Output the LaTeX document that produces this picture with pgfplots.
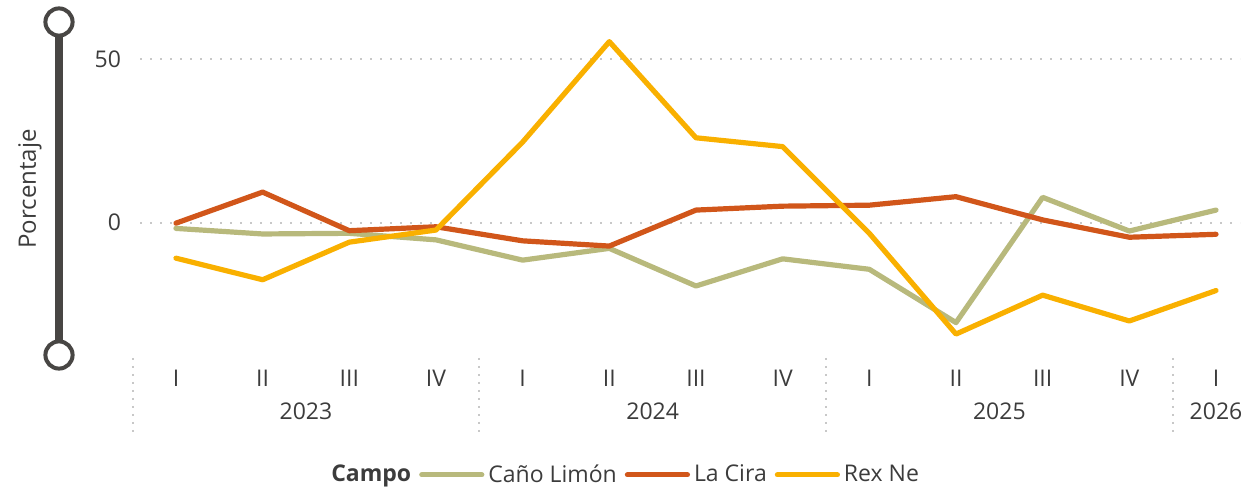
\documentclass[border=0pt]{standalone}
\usepackage{fontspec}
\setmainfont{Open Sans}
\usepackage{pgfplots}
\pgfplotsset{compat=1.18}
\definecolor{cano}{HTML}{B8B97C}
\definecolor{cira}{HTML}{D1561A}
\definecolor{rex}{HTML}{F9B000}
\definecolor{txt}{HTML}{3C3C3C}
\definecolor{slider}{HTML}{484644}
\definecolor{gridc}{HTML}{C8C8C8}
\newcommand{\lblfont}{\fontsize{11.5}{14}\selectfont}
\begin{document}
\begin{tikzpicture}
\path[use as bounding box] (0,0) rectangle (623pt,244.5pt);
% slider decoration
\draw[slider, line width=4.2pt] (29.5pt,67pt) -- (29.5pt,233.5pt);
\draw[slider, line width=2pt, fill=white] (29.5pt,233.5pt) circle (6.8pt);
\draw[slider, line width=2pt, fill=white] (29.5pt,67pt) circle (6.8pt);
\node[rotate=90, text=txt, font=\fontsize{12}{14}\selectfont] at (15pt,150pt) {Porcentaje};
\begin{axis}[
  at={(70pt,67pt)}, anchor=south west,
  scale only axis, width=550pt, height=166.5pt,
  xmin=-0.415, xmax=12.277, ymin=-40.5, ymax=61.3,
  axis line style={draw=none},
  clip=false,
  xtick={0,...,12},
  xticklabels={I,II,III,IV,I,II,III,IV,I,II,III,IV,I},
  ytick={0,50},
  major tick length=0pt,
  xmajorgrids=false,
  ymajorgrids=true,
  major grid style={draw=gridc, line width=1pt, dash pattern=on 1pt off 4pt},
  every tick label/.append style={font=\lblfont, text=txt},
  /pgf/number format/assume math mode=true,
  yticklabel style={anchor=east, xshift=-6pt},
  xticklabel style={anchor=center, yshift=-11.5pt},
  legend columns=-1,
  legend style={at={(0.441,-0.36)}, anchor=center, draw=none, fill=none,
    font=\lblfont, text=txt, /tikz/every even column/.append style={column sep=2pt}},
  legend image code/.code={\draw[#1] (0pt,0pt) -- (30pt,0pt);},
  every axis plot/.append style={line width=2.6pt, line join=round, line cap=round},
]
\addlegendimage{empty legend}
\addlegendentry{\textbf{Campo}}
\addplot[cano] coordinates {(0,-1.8) (1,-3.5) (2,-3.3) (3,-5.3) (4,-11.5) (5,-7.9) (6,-19.4) (7,-11.1) (8,-14.3) (9,-30.6) (10,7.7) (11,-2.6) (12,3.8)};
\addlegendentry{Caño Limón}
\addplot[cira] coordinates {(0,-0.2) (1,9.3) (2,-2.5) (3,-1.3) (4,-5.6) (5,-7.2) (6,3.8) (7,5.0) (8,5.3) (9,7.9) (10,0.8) (11,-4.5) (12,-3.6)};
\addlegendentry{La Cira}
\addplot[rex] coordinates {(0,-10.9) (1,-17.5) (2,-6.0) (3,-2.3) (4,24.6) (5,55.3) (6,25.9) (7,23.2) (8,-3.3) (9,-34.1) (10,-22.2) (11,-30.1) (12,-20.8)};
\addlegendentry{Rex Ne}
% year labels and separators
\node[font=\lblfont, text=txt] at (axis cs:1.5,-57.6) {2023};
\node[font=\lblfont, text=txt] at (axis cs:5.5,-57.6) {2024};
\node[font=\lblfont, text=txt] at (axis cs:9.5,-57.6) {2025};
\node[font=\lblfont, text=txt] at (axis cs:12,-57.6) {2026};
\draw[gridc, line width=1pt, dash pattern=on 1pt off 3pt] (axis cs:-0.5,-41.4) -- (axis cs:-0.5,-64);
\draw[gridc, line width=1pt, dash pattern=on 1pt off 3pt] (axis cs:3.5,-41.4) -- (axis cs:3.5,-64);
\draw[gridc, line width=1pt, dash pattern=on 1pt off 3pt] (axis cs:7.5,-41.4) -- (axis cs:7.5,-64);
\draw[gridc, line width=1pt, dash pattern=on 1pt off 3pt] (axis cs:11.5,-41.4) -- (axis cs:11.5,-64);
\end{axis}
\end{tikzpicture}
\end{document}
